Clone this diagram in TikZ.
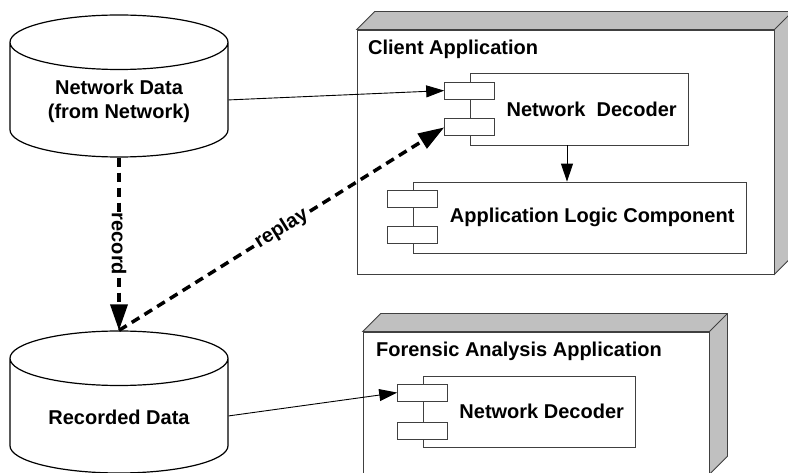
\documentclass[tikz,border=0pt]{standalone}
\usepackage{fontspec}
\setmainfont{Liberation Sans}
\usetikzlibrary{shapes.geometric,arrows.meta,calc}
\definecolor{facegray}{HTML}{C0C0C0}
\definecolor{edgegray}{HTML}{404040}
\tikzset{
  every node/.style={font=\fontsize{20}{24}\selectfont\bfseries},
  datastore/.style={draw,cylinder,shape border rotate=90,aspect=0.25,anchor=shape center,
    inner sep=0pt,text width=218pt,minimum width=218pt,minimum height=142pt,line width=1.2pt},
  appbox/.style={draw=edgegray,fill=white,line width=0.8pt,inner sep=0pt},
  component/.style={draw=edgegray,fill=white,line width=0.8pt,inner sep=0pt,minimum height=72pt},
  port/.style={draw=edgegray,fill=white,line width=0.8pt,inner sep=0pt,minimum width=50pt,minimum height=17pt},
  flow/.style={line width=0.9pt,-{Triangle[length=18pt,width=12pt]}},
  tapeflow/.style={line width=3.5pt,dash pattern=on 9pt off 6pt,-{Triangle[length=26pt,width=17pt]}},
  tag/.style={fill=white,inner sep=1pt}
}
% 3D look for an application node
\newcommand{\appdepth}[1]{%
  \filldraw[fill=facegray,draw=edgegray,line width=0.8pt] (#1.north west) -- ++(18,-18)
    -- ([shift={(18,-18)}]#1.north east) -- ([shift={(18,-18)}]#1.south east)
    -- (#1.south east) -- (#1.north east) -- cycle;
  \draw[edgegray,line width=0.8pt] (#1.north east) -- ++(18,-18);}
\begin{document}
\begin{tikzpicture}[x=1pt,y=-1pt]
\useasboundingbox (0,0) rectangle (788,473);
% data stores
\node[datastore] (netdata) at (119,86) {};
\node[align=center] at ([yshift=-15pt]netdata.shape center) {Network Data\\(from Network)};
\node[datastore] (recdata) at (119,402) {};
\node at ([yshift=-15pt]recdata.shape center) {Recorded Data};
% client application
\node[appbox,minimum width=417pt,minimum height=244pt] (client) at (565.5,152) {};
\appdepth{client}
\node[anchor=west] at ([shift={(8,20)}]client.north west) {Client Application};
\node[component,minimum width=218pt] (clientdec) at (579,109) {};
\node[port] (clientdec-in) at ([yshift=-18pt]clientdec.north west) {};
\node[port] (clientdec-rp) at ([yshift=18pt]clientdec.south west) {};
\node at ($(clientdec-in.east |- clientdec)!.5!(clientdec.east)$) {Network~\ Decoder};
\node[component,minimum width=333pt,minimum height=71pt] (logic) at (579.5,217.5) {};
\node[port] (logic-in) at ([yshift=-17pt]logic.north west) {};
\node[port] (logic-out) at ([yshift=18pt]logic.south west) {};
\node at ($(logic-in.east |- logic)!.5!(logic.east)$) {Application Logic Component};
% forensic application
\node[appbox,minimum width=346pt,minimum height=142pt] (forens) at (536,403) {};
\appdepth{forens}
\node[anchor=west] at ([shift={(10,20)}]forens.north west) {Forensic Analysis Application};
\node[component,minimum width=212pt,minimum height=71pt] (forensdec) at (529,411.5) {};
\node[port] (forensdec-in) at ([yshift=-17pt]forensdec.north west) {};
\node[port] (forensdec-rp) at ([yshift=17pt]forensdec.south west) {};
\node at ($(forensdec-in.east |- forensdec)!.5!(forensdec.east)$) {Network Decoder};
% connectors
\draw[flow] (netdata.east) -- (clientdec-in.west);
\draw[flow] ([xshift=-12pt]clientdec.south) -- ([xshift=-12pt]clientdec.south |- logic.north);
\draw[flow] (recdata.east) -- (forensdec-in.west);
\draw[tapeflow] (netdata.south) -- node[tag,rotate=-90] {record} (recdata.north);
\draw[tapeflow] (recdata.north) -- node[tag,sloped] {replay} (clientdec-rp.west);
\end{tikzpicture}
\end{document}
